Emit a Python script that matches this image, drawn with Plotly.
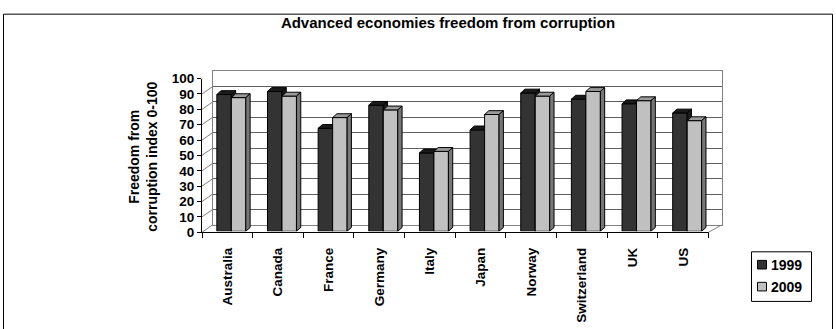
import plotly.graph_objects as go

countries = ["Australia", "Canada", "France", "Germany", "Italy",
             "Japan", "Norway", "Switzerland", "UK", "US"]
v1999 = [89, 91, 67, 82, 51, 66, 90, 86, 83, 77]
v2009 = [87, 88, 74, 79, 52, 76, 88, 91, 85, 72]
series_names = ["1999", "2009"]
y_ticks = list(range(0, 101, 10))

W, H = 836, 329
FONT = "Liberation Sans, Arial, sans-serif"
COL_FRONT = {"1999": "#333333", "2009": "#c0c0c0"}


def px_x(p):
    return p / W


def px_y(p):
    return 1 - p / H


# layout geometry (pixels)
FX0, FX1, FY0, FY1 = 202, 708.5, 236, 75        # front axes
BDX, BDY = 11, -8                               # back wall offset
SX, SY = 4, -1                                  # bar plane offset
BAR_W = 0.286
DEPTH_X = 0.085
DEPTH_Y = 2.5

fig = go.Figure()

# back wall carrier (invisible)
fig.add_trace(go.Scatter(x=[0.5] * len(y_ticks), y=y_ticks, mode="markers",
                         marker=dict(opacity=0), hoverinfo="skip",
                         showlegend=False, xaxis="x", yaxis="y"))
# front category axis carrier (invisible)
fig.add_trace(go.Scatter(x=countries, y=v1999, mode="markers",
                         marker=dict(opacity=0), hoverinfo="skip",
                         showlegend=False, xaxis="x2", yaxis="y2"))


def add_series(vals, name, top, side, xa, ya, offset):
    xs = list(range(len(vals)))
    fig.add_trace(go.Bar(x=xs, y=vals, name=name, width=BAR_W, offset=offset,
                         marker=dict(color=COL_FRONT[name], line=dict(color="black", width=1)),
                         xaxis=xa, yaxis=ya, showlegend=False))
    for i, v in enumerate(vals):
        x0 = i + offset
        x1 = x0 + BAR_W
        fig.add_trace(go.Scatter(
            x=[x0, x1, x1 + DEPTH_X, x0 + DEPTH_X, x0],
            y=[v, v, v + DEPTH_Y, v + DEPTH_Y, v],
            fill="toself", fillcolor=top, mode="lines",
            line=dict(color="black", width=1), hoverinfo="skip",
            showlegend=False, xaxis=xa, yaxis=ya))
        fig.add_trace(go.Scatter(
            x=[x1, x1 + DEPTH_X, x1 + DEPTH_X, x1, x1],
            y=[0, DEPTH_Y, v + DEPTH_Y, v, 0],
            fill="toself", fillcolor=side, mode="lines",
            line=dict(color="black", width=1), hoverinfo="skip",
            showlegend=False, xaxis=xa, yaxis=ya))


add_series(v1999, "1999", "#1a1a1a", "#1a1a1a", "x3", "y3", -BAR_W)
add_series(v2009, "2009", "#9a9a9a", "#777777", "x4", "y4", 0)

# left wall diagonals and floor edge
shapes = []
for k in y_ticks:
    shapes.append(dict(type="line", xref="paper", yref="y2",
                       x0=px_x(FX0), x1=px_x(FX0 + BDX),
                       y0=k, y1=k - BDY * 100 / (FY0 - FY1),
                       line=dict(color="#808080", width=1)))
shapes.append(dict(type="line", xref="paper", yref="paper",
                   x0=px_x(FX1), y0=px_y(FY0), x1=px_x(FX1 + BDX + 2), y1=px_y(FY0 + BDY + 0.5),
                   line=dict(color="#808080", width=1)))
# outer border
shapes.append(dict(type="rect", xref="paper", yref="paper",
                   x0=px_x(3.5), x1=px_x(832.5), y0=-0.05, y1=px_y(7.5),
                   line=dict(color="black", width=1)))

# legend (box, swatches, labels)
annotations = []
shapes.append(dict(type="rect", xref="paper", yref="paper",
                   x0=px_x(751.5), x1=px_x(811.5), y0=px_y(308.5), y1=px_y(256.5),
                   line=dict(color="black", width=1), fillcolor="white"))
for j, nm in enumerate(series_names):
    cy = 270 + 23 * j
    shapes.append(dict(type="rect", xref="paper", yref="paper",
                       x0=px_x(757.5), x1=px_x(766.5), y0=px_y(cy + 4.5), y1=px_y(cy - 4.5),
                       line=dict(color="black", width=1), fillcolor=COL_FRONT[nm]))
    annotations.append(dict(text=nm, xref="paper", yref="paper",
                            x=px_x(769), y=px_y(cy), xanchor="left", yanchor="middle",
                            showarrow=False,
                            font=dict(family=FONT, size=14, color="black", weight="bold")))

annotations.append(dict(text="Freedom from<br>corruption index 0-100",
                        xref="paper", yref="paper", x=px_x(143), y=px_y(157),
                        xanchor="center", yanchor="middle", textangle=-90,
                        showarrow=False,
                        font=dict(family=FONT, size=14, color="black", weight="bold")))

hidden = dict(visible=False, range=[-0.5, 9.5], fixedrange=True)
hidden_y = dict(visible=False, range=[0, 100], fixedrange=True)
TICKFONT = dict(family=FONT, size=13.5, color="black", weight="bold")

fig.update_layout(
    width=W, height=H,
    margin=dict(l=0, r=0, t=0, b=0),
    paper_bgcolor="white", plot_bgcolor="rgba(0,0,0,0)",
    font=dict(family=FONT, size=13.5, color="black", weight="bold"),
    title=dict(text="Advanced economies freedom from corruption",
               x=px_x(448), xanchor="center", y=px_y(22.5), yanchor="middle",
               font=dict(family=FONT, size=15, color="black", weight="bold")),
    showlegend=False,
    # back wall
    xaxis=dict(domain=[px_x(FX0 + BDX), px_x(FX1 + BDX + 2)], range=[0, 1],
               showgrid=False, showticklabels=False, ticks="", zeroline=False,
               showline=True, mirror=True, linecolor="#808080", linewidth=1,
               fixedrange=True, anchor="y"),
    yaxis=dict(domain=[px_y(FY0 + BDY + 0.5), px_y(FY1 + BDY)], range=[0, 100],
               dtick=10, showgrid=True, gridcolor="#5e5e5e", gridwidth=1,
               showticklabels=False, ticks="", zeroline=False,
               showline=True, mirror=True, linecolor="#808080", linewidth=1,
               fixedrange=True, anchor="x"),
    # front axes
    xaxis2=dict(domain=[px_x(FX0), px_x(FX1)], type="category",
                range=[-0.5, 9.5], tickson="boundaries", ticks="outside",
                ticklen=5, tickcolor="black", showline=True, linecolor="black",
                linewidth=1, showgrid=False, tickangle=-90, anchor="y2",
                ticklabelstandoff=9, tickfont=TICKFONT, fixedrange=True),
    yaxis2=dict(domain=[px_y(FY0), px_y(FY1)], range=[0, 100], tickvals=y_ticks,
                ticks="outside", ticklen=4, tickcolor="black", showline=True,
                linecolor="black", linewidth=1, showgrid=False, zeroline=False,
                anchor="x2", tickfont=TICKFONT, fixedrange=True),
    # bar planes
    xaxis3=dict(domain=[px_x(FX0 + SX), px_x(FX1 + SX)], anchor="y3", **hidden),
    yaxis3=dict(domain=[px_y(FY0 + SY), px_y(FY1 + SY)], anchor="x3", **hidden_y),
    xaxis4=dict(domain=[px_x(FX0 + SX), px_x(FX1 + SX)], anchor="y4",
                overlaying="x3", **hidden),
    yaxis4=dict(domain=[px_y(FY0 + SY), px_y(FY1 + SY)], anchor="x4",
                overlaying="y3", **hidden_y),
    shapes=shapes,
    annotations=annotations,
)

fig.write_html("out.html", config={"displayModeBar": False},
               post_script="document.body.style.margin='0';"
                           "document.body.style.overflow='hidden';")
